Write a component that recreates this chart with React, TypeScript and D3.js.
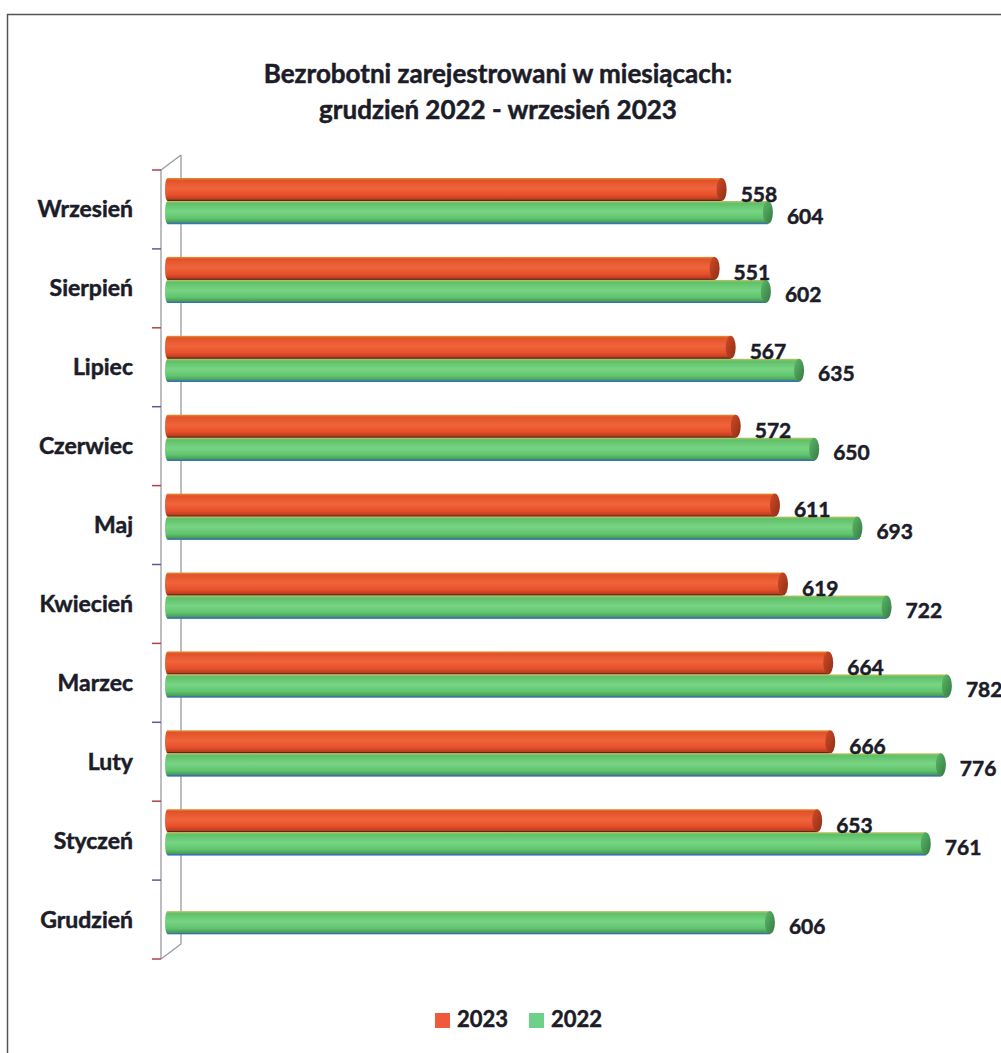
import * as d3 from "d3";

// months from top to bottom, as in the chart
const months = ["Wrzesień", "Sierpień", "Lipiec", "Czerwiec", "Maj", "Kwiecień", "Marzec", "Luty", "Styczeń", "Grudzień"];
const values2023: (number | null)[] = [558, 551, 567, 572, 611, 619, 664, 666, 653, null];
const values2022: number[] = [604, 602, 635, 650, 693, 722, 782, 776, 761, 606];
const seriesNames = ["2023", "2022"];
const titleLines = ["Bezrobotni zarejestrowani w miesiącach:", "grudzień 2022 - wrzesień 2023"];

const W = 1001;
const H = 1053;
const FONT = "Lato, 'Open Sans', sans-serif";
const INK = "#1c1c28";

const Cylinder = ({ x0, x1, y, h, grad, cap, edge }: { x0: number; x1: number; y: number; h: number; grad: string; cap: string; edge: string }) => {
    const rx = 5;
    return (
        <g>
            <ellipse cx={x0 + 2} cy={y + h / 2} rx={2.5} ry={h / 2} fill={`url(#${grad})`} />
            <rect x={x0 + 2} y={y} width={Math.max(0, x1 - rx - x0 - 2)} height={h} fill={`url(#${grad})`} />
            <line x1={x0 + 2} x2={x1 - rx} y1={y + h - 0.5} y2={y + h - 0.5} stroke={edge} strokeWidth={1.4} />
            <ellipse cx={x1 - rx} cy={y + h / 2} rx={rx} ry={h / 2} fill={`url(#${cap})`} />
        </g>
    );
};

export default function App() {
    const x = d3.scaleLinear().domain([0, 800]).range([165.5, 970]);
    const y = d3.scaleBand<string>().domain(months).range([170, 959]);
    const barH = 23;
    const depthX = 20;
    const depthY = -15;
    const axisX = 161;
    const [top, bottom] = y.range();
    const tickYs = [...months.map(m => y(m) as number), bottom];
    // scanned Calibri looks heavier than Lato bold, thicken it a bit
    const heavy = { stroke: INK, strokeWidth: 0.5 };

    return (
        <svg width={W} height={H} style={{ position: "absolute", left: 0, top: 0, display: "block", background: "#fff" }}
            fontFamily={FONT}>
            <defs>
                <linearGradient id="gOrange" x1="0" y1="0" x2="0" y2="1">
                    <stop offset="0%" stopColor="#e8902e" />
                    <stop offset="10%" stopColor="#e0522a" />
                    <stop offset="45%" stopColor="#f0643c" />
                    <stop offset="75%" stopColor="#e64f2a" />
                    <stop offset="100%" stopColor="#a8361c" />
                </linearGradient>
                <linearGradient id="gOrangeCap" x1="0" y1="0" x2="1" y2="1">
                    <stop offset="0%" stopColor="#d04a26" />
                    <stop offset="100%" stopColor="#8e2e16" />
                </linearGradient>
                <linearGradient id="gGreen" x1="0" y1="0" x2="0" y2="1">
                    <stop offset="0%" stopColor="#c8c060" />
                    <stop offset="10%" stopColor="#5ec068" />
                    <stop offset="45%" stopColor="#78d484" />
                    <stop offset="75%" stopColor="#60c46e" />
                    <stop offset="100%" stopColor="#3c8c4c" />
                </linearGradient>
                <linearGradient id="gGreenCap" x1="0" y1="0" x2="1" y2="1">
                    <stop offset="0%" stopColor="#5cb868" />
                    <stop offset="100%" stopColor="#347a44" />
                </linearGradient>
            </defs>

            {/* chart frame, runs off the page at right and bottom */}
            <rect x={7.5} y={14.5} width={W} height={H} fill="none" stroke="#555" strokeWidth={1.5} />

            {/* title */}
            {titleLines.map((t, i) => (
                <text key={t} x={498} y={83 + i * 36} textAnchor="middle" fontSize={26} fontWeight="bold" fill={INK} {...heavy}>{t}</text>
            ))}

            {/* 3D side wall of the category axis */}
            <g stroke="#9a9aa0" strokeWidth={1.3} fill="none">
                <line x1={axisX} x2={axisX} y1={top} y2={bottom} />
                <line x1={axisX + depthX} x2={axisX + depthX} y1={top + depthY} y2={bottom + depthY} />
                <line x1={axisX} x2={axisX + depthX} y1={top} y2={top + depthY} />
                <line x1={axisX} x2={axisX + depthX} y1={bottom} y2={bottom + depthY} />
            </g>
            {tickYs.map((ty, i) => (
                <line key={i} x1={axisX - 9} x2={axisX} y1={ty} y2={ty} stroke={i % 2 ? "#5a5a9a" : "#b04050"} strokeWidth={1.5} />
            ))}

            {/* bars */}
            {months.map((m, i) => {
                const by = (y(m) as number) + 8;
                const v23 = values2023[i];
                const v22 = values2022[i];
                return (
                    <g key={m}>
                        {v23 != null && (
                            <Cylinder x0={x(0)} x1={x(v23)} y={by} h={barH} grad="gOrange" cap="gOrangeCap" edge="#5a2a20" />
                        )}
                        <Cylinder x0={x(0)} x1={x(v22)} y={by + barH} h={barH} grad="gGreen" cap="gGreenCap" edge="#3a6fc0" />
                    </g>
                );
            })}

            {/* value labels */}
            {months.map((m, i) => {
                const by = (y(m) as number) + 8;
                const v23 = values2023[i];
                const v22 = values2022[i];
                return (
                    <g key={m} fontSize={21} fontWeight="bold" fill={INK} {...heavy}>
                        {v23 != null && <text x={x(v23) + 14} y={by + barH / 2 + 12}>{v23}</text>}
                        <text x={x(v22) + 14} y={by + barH + barH / 2 + 11}>{v22}</text>
                    </g>
                );
            })}

            {/* category labels */}
            {months.map(m => (
                <text key={m} x={133} y={(y(m) as number) + y.bandwidth() / 2 + 8} textAnchor="end" fontSize={23} fontWeight="bold" fill={INK} {...heavy}>{m}</text>
            ))}

            {/* legend */}
            {seriesNames.map((s, i) => (
                <g key={s} transform={`translate(${435 + i * 94},1013)`}>
                    <rect width={15} height={15} fill={i === 0 ? "#ee5a3a" : "#6fd08a"} />
                    <text x={22} y={14} fontSize={22} fontWeight="bold" fill={INK} {...heavy}>{s}</text>
                </g>
            ))}
        </svg>
    );
}
